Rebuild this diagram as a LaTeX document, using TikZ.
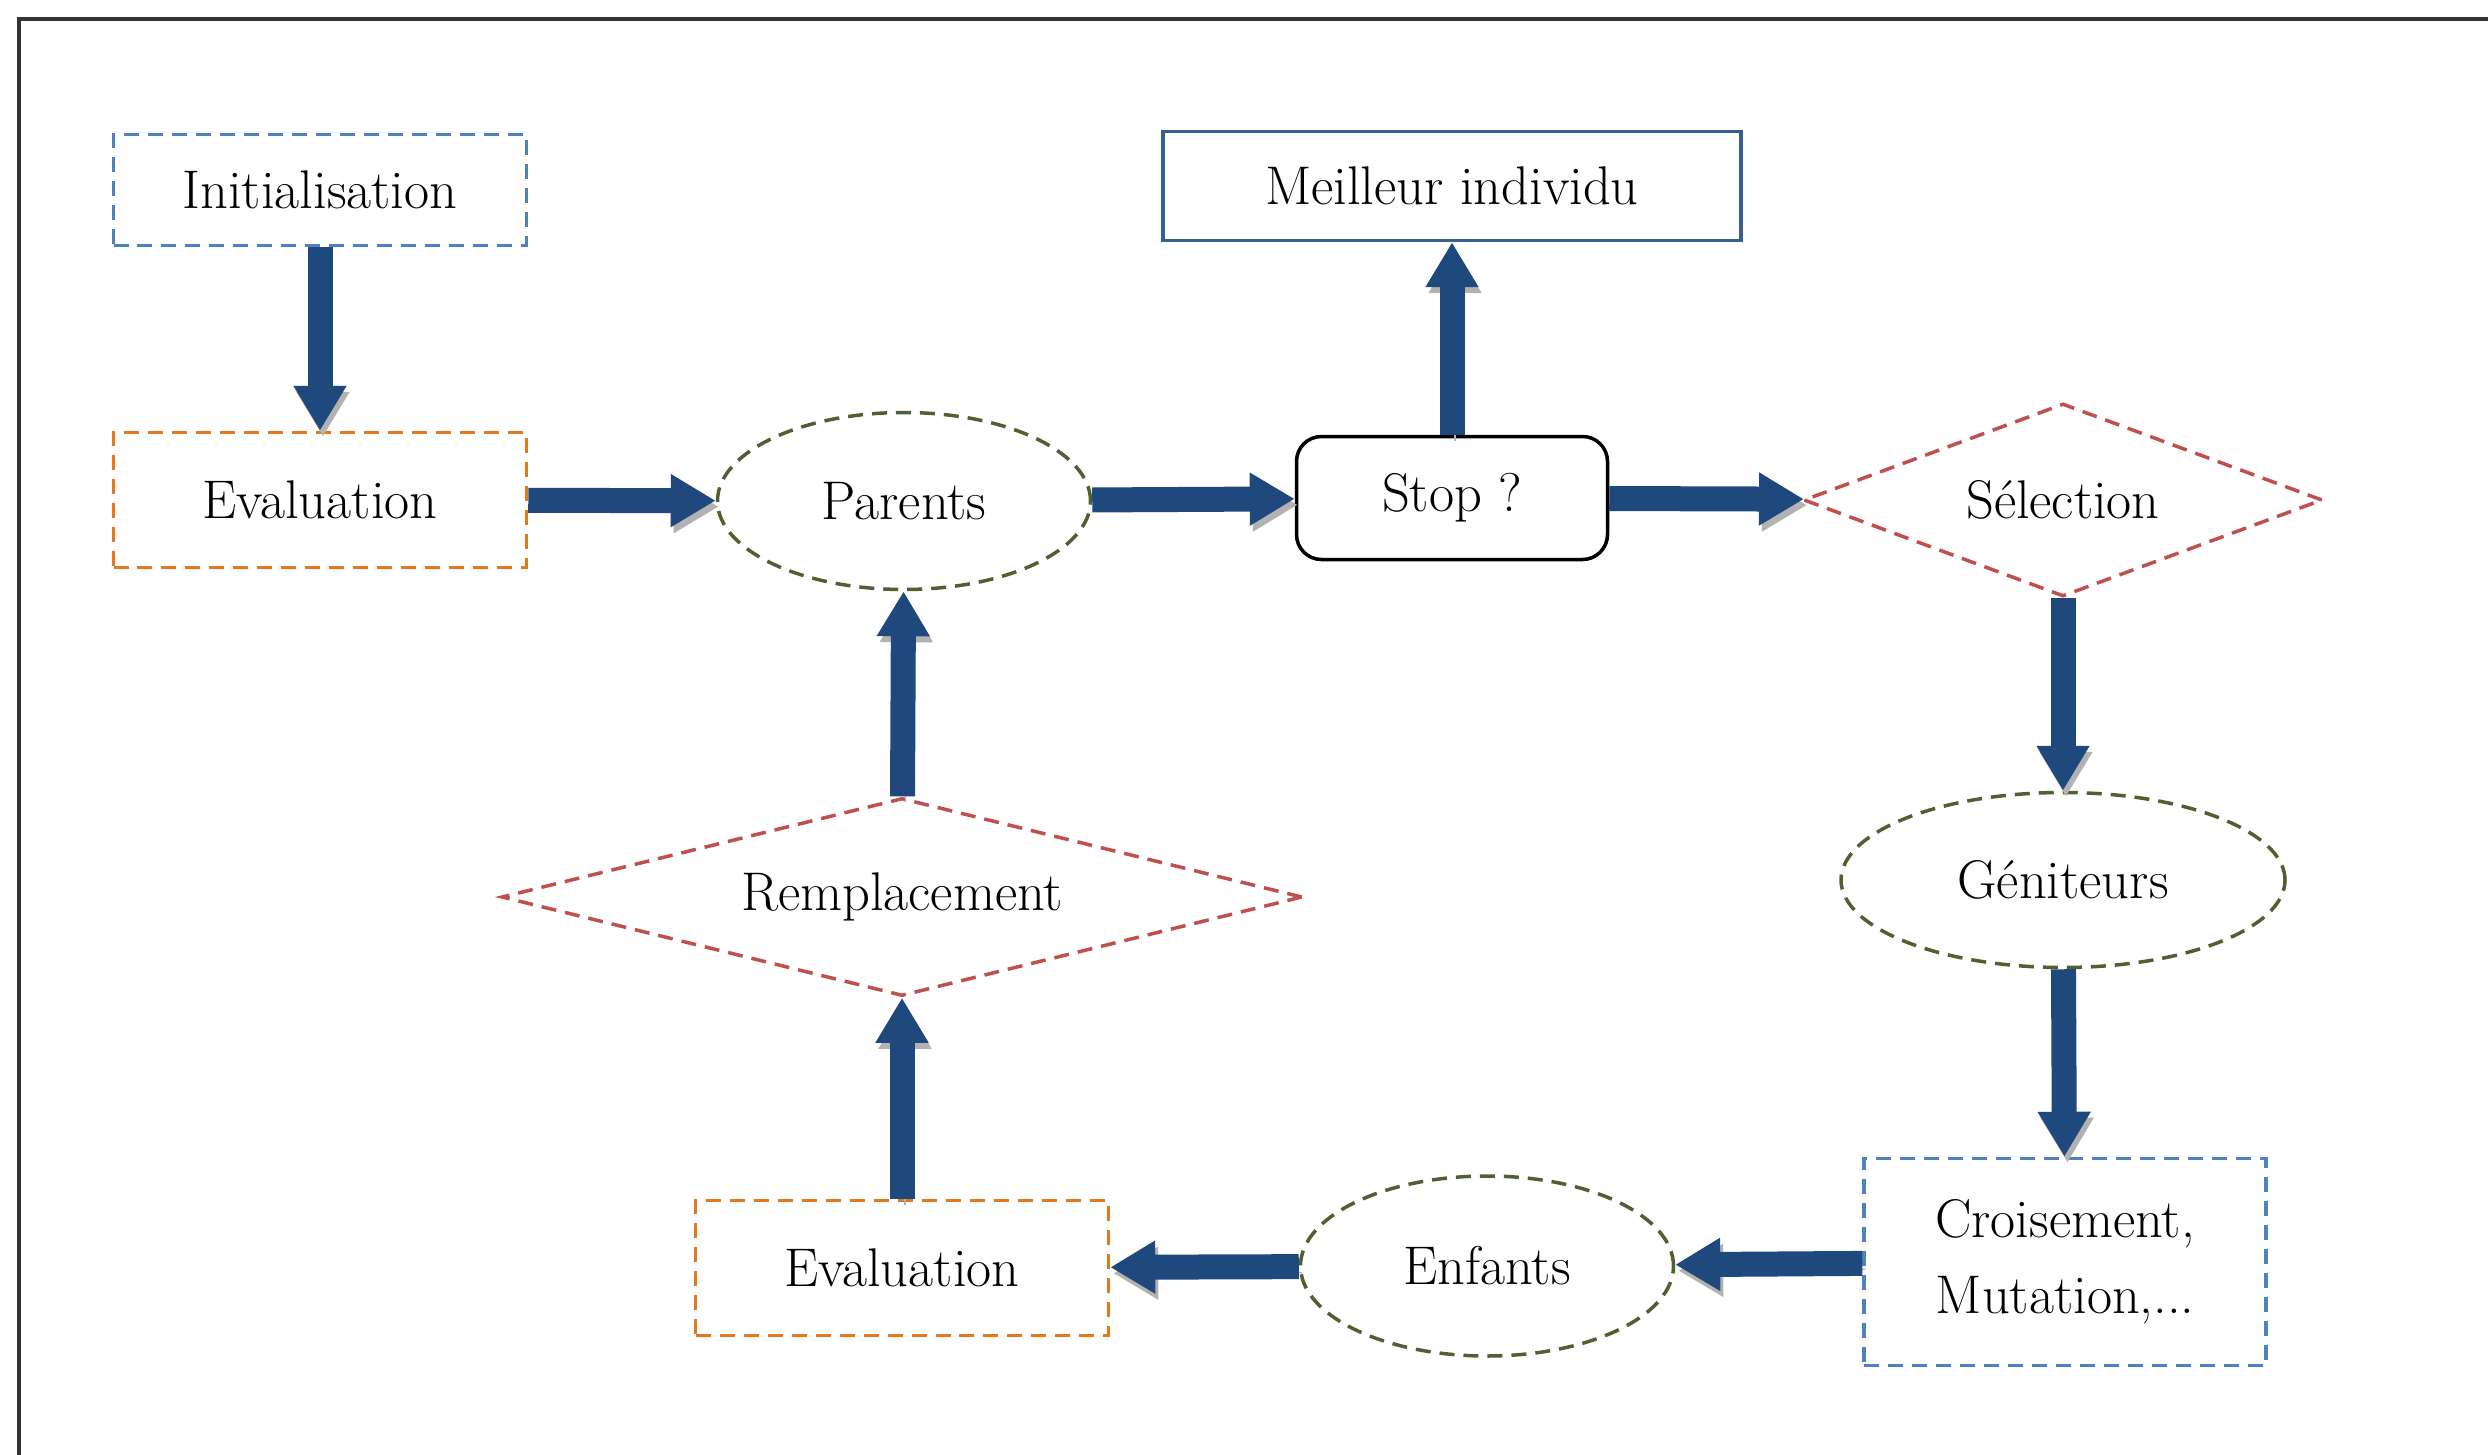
\documentclass[tikz,border=0pt]{standalone}
\usetikzlibrary{shapes.geometric,arrows.meta}
\definecolor{blufreccia}{RGB}{31,73,125}
\definecolor{bluchiaro}{RGB}{79,129,189}
\definecolor{arancio}{RGB}{228,120,30}
\definecolor{oliva}{RGB}{80,96,50}
\definecolor{rosso}{RGB}{192,80,77}
\definecolor{blumeglio}{RGB}{54,96,146}
\begin{document}
\begin{tikzpicture}[
    testo/.style={font=\fontsize{15.5}{21.6}\selectfont, text=black, inner sep=0pt, line width=0.035cm},
    tratteggio/.style={testo, dash pattern=on 0.15cm off 0.09cm},
    scatola/.style={tratteggio, rectangle, minimum width=4.13cm, minimum height=1.35cm},
    ovale/.style={tratteggio, ellipse, draw=oliva, minimum width=3.73cm, minimum height=1.77cm},
    rombo/.style={tratteggio, diamond, draw=rosso},
    freccia/.style={blufreccia, line width=0.25cm, -{Triangle[width=0.5cm,length=0.45cm]},
        preaction={draw=gray!60, transform canvas={shift={(0.03,-0.06)}}}}
]
    \useasboundingbox (0,0) rectangle (24.88,-14.55);

     % Cornice
    \draw[line width=0.04cm, black!80] (24.88,-0.19) -- (0.19,-0.19) -- (0.19,-14.55);

     % Disegna i nodi
    \node[scatola, draw=bluchiaro, minimum height=1.11cm] (init) at (3.20,-1.90) {Initialisation};
    \node[scatola, draw=arancio] (evalA) at (3.20,-5.00) {Evaluation};
    \node[ovale] (parents) at (9.04,-5.01) {Parents};
    \node[testo, draw=black, rounded corners=0.25cm, minimum width=3.11cm, minimum height=1.23cm] (stop) at (14.52,-4.98) {Stop ?};
    \node[testo, draw=blumeglio, minimum width=5.78cm, minimum height=1.09cm] (meilleur) at (14.52,-1.86) {Meilleur individu};
    \node[rombo, aspect=2.69, minimum width=5.19cm, minimum height=1.93cm] (selection) at (20.63,-5.00) {Sélection};
    \node[ovale, minimum width=4.44cm, minimum height=1.75cm] (geniteurs) at (20.63,-8.80) {Géniteurs};
    \node[scatola, draw=bluchiaro, minimum width=4.02cm, minimum height=2.07cm, align=center] (croisement) at (20.65,-12.62) {Croisement,\\Mutation,...};
    \node[ovale, minimum height=1.80cm] (enfants) at (14.87,-12.66) {Enfants};
    \node[scatola, draw=arancio] (evalB) at (9.02,-12.68) {Evaluation};
    \node[rombo, aspect=4.05, minimum width=8.01cm, minimum height=1.98cm] (remplacement) at (9.02,-8.97) {Remplacement};

     % Frecce
    \draw[freccia] (init) -- (evalA);
    \draw[freccia] (evalA) -- (parents);
    \draw[freccia] (parents) -- (stop);
    \draw[freccia] (stop) -- (meilleur);
    \draw[freccia] (stop) -- (selection);
    \draw[freccia] (selection) -- (geniteurs);
    \draw[freccia] (geniteurs) -- (croisement);
    \draw[freccia] (croisement) -- (enfants);
    \draw[freccia] (enfants) -- (evalB);
    \draw[freccia] (evalB) -- (remplacement);
    \draw[freccia] (remplacement) -- (parents);
\end{tikzpicture}
\end{document}
